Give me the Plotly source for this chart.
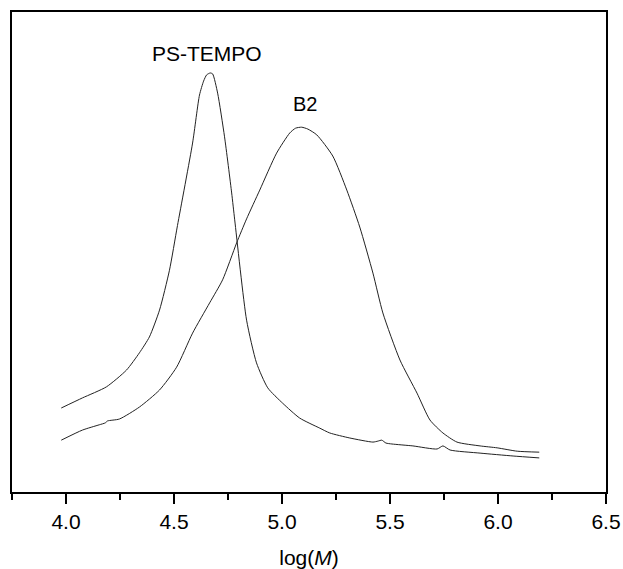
import plotly.graph_objects as go

# GPC traces (y in arbitrary units, 0-100 of the frame)
ps_logm = [3.978, 4.076, 4.187, 4.280, 4.340, 4.386, 4.433, 4.479, 4.516, 4.586,
           4.618, 4.637, 4.651, 4.668, 4.679, 4.702, 4.734, 4.767, 4.781, 4.836,
           4.882, 4.934, 5.003, 5.082, 5.175, 5.221, 5.314, 5.421, 5.444, 5.462,
           5.481, 5.509, 5.606, 5.718, 5.745, 5.778, 5.917, 6.070, 6.191]
ps_signal = [17.5, 19.6, 21.9, 25.4, 29.0, 32.3, 37.9, 46.2, 55.5, 72.7,
             82.7, 85.6, 86.9, 87.3, 87.1, 83.1, 74.0, 62.3, 56.7, 35.8,
             26.9, 21.7, 18.5, 15.4, 13.3, 12.3, 11.25, 10.4, 10.6, 10.8,
             10.2, 10.0, 9.6, 8.96, 9.6, 8.75, 8.1, 7.5, 7.1]

b2_logm = [3.978, 4.076, 4.154, 4.182, 4.192, 4.247, 4.340, 4.433, 4.512, 4.586,
           4.665, 4.725, 4.790, 4.836, 4.897, 4.975, 5.036, 5.063, 5.091, 5.120,
           5.161, 5.235, 5.300, 5.360, 5.421, 5.467, 5.546, 5.625, 5.685, 5.745,
           5.810, 5.917, 5.996, 6.089, 6.191]
b2_signal = [10.8, 12.9, 14.0, 14.4, 14.8, 15.2, 17.7, 21.25, 26.0, 33.1,
             39.4, 44.2, 51.9, 56.9, 62.9, 70.6, 74.8, 75.8, 76.0, 75.6,
             74.4, 70.0, 62.9, 55.2, 45.6, 37.3, 27.5, 20.6, 15.0, 12.3,
             10.4, 9.6, 9.2, 8.5, 8.3]

font = "Liberation Sans, Arial, sans-serif"
curve = dict(color="#222222", width=1, shape="spline", smoothing=0.6)

fig = go.Figure()
fig.add_trace(go.Scatter(x=ps_logm, y=ps_signal, mode="lines", line=curve, name="PS-TEMPO"))
fig.add_trace(go.Scatter(x=b2_logm, y=b2_signal, mode="lines", line=curve, name="B2"))

fig.add_annotation(x=4.651, y=91.3, text="PS-TEMPO", showarrow=False,
                   font=dict(size=21, color="black", family=font))
fig.add_annotation(x=5.105, y=80.8, text="B2", showarrow=False,
                   font=dict(size=20, color="black", family=font))

fig.update_layout(
    width=623, height=569,
    margin=dict(l=12, r=17, t=12, b=77, autoexpand=False),
    paper_bgcolor="white", plot_bgcolor="white",
    showlegend=False,
    font=dict(family=font, size=21, color="black"),
    xaxis=dict(
        range=[3.75, 6.5], tick0=4.0, dtick=0.5, tickformat=".1f",
        showline=True, linecolor="black", linewidth=2, mirror=True,
        ticks="outside", ticklen=10, tickwidth=1.5, tickcolor="black",
        automargin=False,
        minor=dict(ticks="outside", ticklen=6, tickwidth=1.5, dtick=0.25, tickcolor="black"),
        showgrid=False, zeroline=False,
        title=dict(text="log(<i>M</i>)", standoff=22, font=dict(size=21)),
    ),
    yaxis=dict(
        range=[0, 100], showline=True, linecolor="black", linewidth=2, mirror=True,
        showticklabels=False, ticks="", showgrid=False, zeroline=False, automargin=False,
    ),
)

# drop the page's default body margin so the figure sits at the window origin
fig.write_html("out.html", config={"displayModeBar": False},
               post_script="document.body.style.margin='0';")
